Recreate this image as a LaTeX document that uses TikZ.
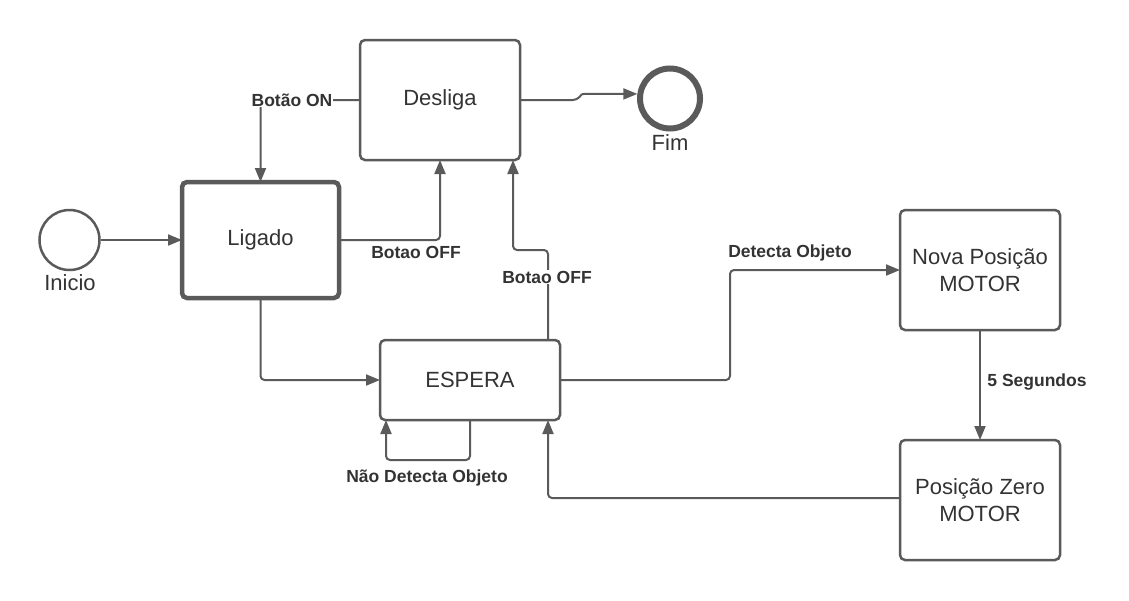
\documentclass[tikz,border=0pt]{standalone}
\usepackage{fontspec}
\setmainfont{Liberation Sans}
\usetikzlibrary{arrows.meta}
\definecolor{ln}{HTML}{5A5A5A}
\definecolor{tx}{HTML}{333333}
\tikzset{
  box/.style={draw=ln, line width=2.5pt, rounded corners=5pt, fill=white, text=tx,
    minimum width=160pt, minimum height=120pt, align=center,
    font=\fontsize{22}{27}\selectfont, inner sep=0pt, outer sep=0pt},
  evt/.style={circle, draw=ln, fill=white, inner sep=0pt},
  evtlabel/.style={text=tx, font=\fontsize{22}{26}\selectfont, inner sep=0pt},
  lbl/.style={text=tx, font=\bfseries\fontsize{17.5}{20}\selectfont, fill=white, inner sep=1pt},
  conn/.style={draw=ln, line width=2pt, rounded corners=4pt, -{Triangle[length=14pt,width=11pt]}},
  plain/.style={draw=ln, line width=2pt, rounded corners=4pt}
}
\begin{document}
\begin{tikzpicture}[x=1pt,y=-1pt]
\useasboundingbox (0,0) rectangle (1129,600);
% nodes
\node[evt, line width=2.5pt, minimum size=60pt] (ini) at (69.5,240) {};
\node[evtlabel] (inil) at (70,283) {Inicio};
\node[box, line width=4.5pt, minimum width=157pt, minimum height=116pt] (lig) at (260.5,240) {Ligado};
\node[box] (des) at (440,100) {\raisebox{3pt}{Desliga}};
\node[evt, line width=6pt, minimum size=60pt] (fim) at (670,98.5) {};
\node[evtlabel] (fiml) at (670,143) {Fim};
\node[box, minimum width=180pt, minimum height=80pt] (esp) at (470,380) {ESPERA};
\node[box] (nova) at (980,270) {Nova Posição\\MOTOR};
\node[box] (zero) at (980,500) {Posição Zero\\MOTOR};
% coordinates
\coordinate (b1) at (577,100);
\coordinate (b2) at (582,94);
% connectors
\draw[conn] (ini.east) -- (lig.west);
\draw[conn] (des.west) -| (lig.north);
\node[lbl] (lon) at (292,100) {Botão ON};
\draw[conn] (lig.east) -| (des.south);
\node[lbl, fill=none] (loff1) at (416,252) {Botao OFF};
\draw[conn] (esp.north -| 548,0) |- (513,250) -- (des.south -| 513,0);
\node[lbl] (loff2) at (547,277) {Botao OFF};
\draw[plain] (des.east) -- (b1) -- (b2);
\draw[conn] (b2) -- (fim.172);
\draw[conn] (lig.south) |- (esp.west);
\draw[conn] (esp.south) |- (386,460) -- (esp.south -| 386,0);
\node[lbl, fill=none] (lnao) at (427,478) {Não Detecta Objeto};
\draw[conn] (esp.east) -| (730,320) |- (nova.west);
\node[lbl, fill=none] (ldet) at (790,253) {Detecta Objeto};
\draw[conn] (nova.south) -- (zero.north);
\node[lbl, fill=none] (lseg) at (1037,382) {5 Segundos};
\draw[conn] (zero.west |- 0,498) -| (esp.south -| 548,0);
\end{tikzpicture}
\end{document}
